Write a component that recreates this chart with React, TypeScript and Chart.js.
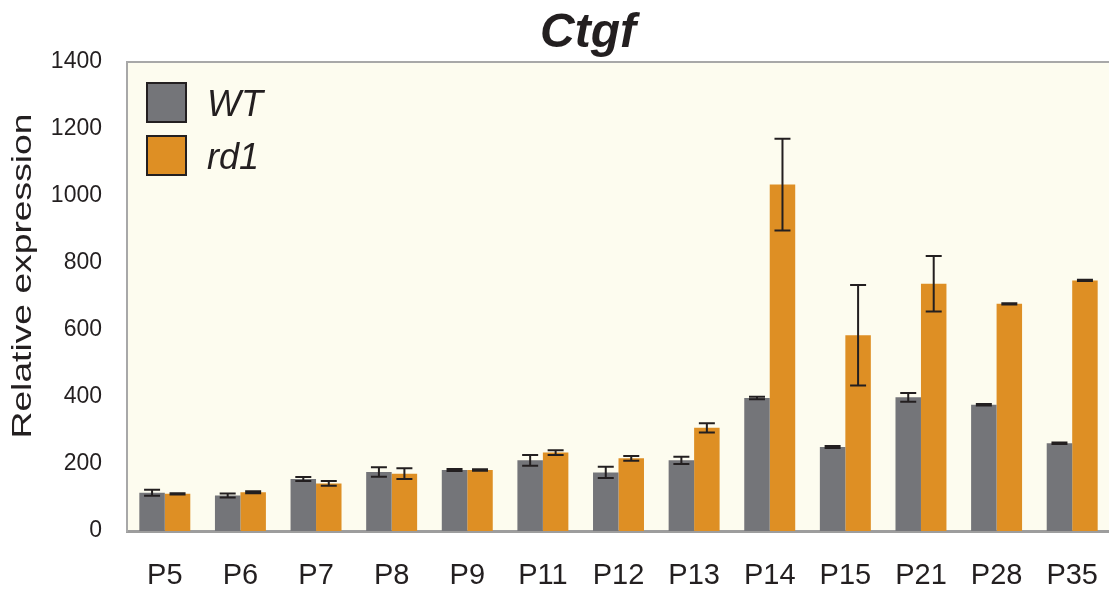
import React, { useEffect, useRef } from "react";
import { Chart, registerables } from "chart.js";

Chart.register(...registerables);

const categories = ["P5", "P6", "P7", "P8", "P9", "P11", "P12", "P13", "P14", "P15", "P21", "P28", "P35"];
const wtValues = [114, 106, 155, 176, 182, 211, 175, 211, 397, 251, 399, 377, 262];
const wtErrors = [9, 6, 6, 14, 3, 16, 17, 11, 4, 3, 13, 2, 2];
const rd1Values = [111, 116, 142, 171, 182, 234, 217, 308, 1034, 584, 738, 678, 748];
const rd1Errors = [2, 3, 7, 16, 2, 7, 7, 14, 137, 150, 83, 2, 2];
const seriesLabels = ["WT", "rd1"];
const seriesColors = ["#747579", "#de8f24"];
const yMin = 0;
const yMax = 1400;
const yStep = 200;
const chartTitle = "Ctgf";
const yAxisTitle = "Relative expression";

const FONT = '"Liberation Sans", Arial, sans-serif';
const INK = "#231f20";

export default function App() {
  const ref = useRef<HTMLCanvasElement | null>(null);

  useEffect(() => {
    if (!ref.current) return;
    const errors = [wtErrors, rd1Errors];

    const bgPlugin = {
      id: "bg",
      beforeDraw(chart: any) {
        const { ctx, chartArea: a } = chart;
        ctx.save();
        ctx.fillStyle = "#fdfcef";
        ctx.fillRect(a.left, a.top, a.right - a.left, a.bottom - a.top);
        ctx.strokeStyle = "#a8a8a8";
        ctx.lineWidth = 2;
        ctx.beginPath();
        ctx.moveTo(a.left, a.top);
        ctx.lineTo(a.right, a.top);
        ctx.stroke();
        ctx.restore();
      },
    };

    const errPlugin = {
      id: "errbars",
      afterDatasetsDraw(chart: any) {
        const { ctx } = chart;
        const ys = chart.scales.y;
        ctx.save();
        ctx.strokeStyle = INK;
        ctx.lineWidth = 2;
        chart.data.datasets.forEach((ds: any, i: number) => {
          const meta = chart.getDatasetMeta(i);
          meta.data.forEach((bar: any, j: number) => {
            const v = ds.data[j];
            const e = errors[i][j];
            const x = bar.x;
            const yt = ys.getPixelForValue(v + e);
            const yb = ys.getPixelForValue(v - e);
            const cw = 8;
            ctx.beginPath();
            ctx.moveTo(x, yt);
            ctx.lineTo(x, yb);
            ctx.moveTo(x - cw, yt);
            ctx.lineTo(x + cw, yt);
            ctx.moveTo(x - cw, yb);
            ctx.lineTo(x + cw, yb);
            ctx.stroke();
          });
        });
        ctx.restore();
      },
    };

    const textPlugin = {
      id: "texts",
      afterDraw(chart: any) {
        const { ctx } = chart;
        ctx.save();
        ctx.fillStyle = INK;
        ctx.font = `italic bold 48px ${FONT}`;
        ctx.textAlign = "center";
        ctx.textBaseline = "alphabetic";
        ctx.fillText(chartTitle, 588, 47);
        ctx.save();
        ctx.translate(31, 276);
        ctx.rotate(-Math.PI / 2);
        ctx.scale(1.33, 1);
        ctx.font = `28px ${FONT}`;
        ctx.textAlign = "center";
        ctx.textBaseline = "alphabetic";
        ctx.fillText(yAxisTitle, 0, 0);
        ctx.restore();
        const boxX = 147;
        const boxTops = [83, 136];
        const baselines = [116, 169];
        seriesLabels.forEach((lab, i) => {
          ctx.fillStyle = seriesColors[i];
          ctx.fillRect(boxX, boxTops[i], 39, 39);
          ctx.strokeStyle = INK;
          ctx.lineWidth = 2;
          ctx.strokeRect(boxX, boxTops[i], 39, 39);
          ctx.fillStyle = INK;
          ctx.font = `italic 36px ${FONT}`;
          ctx.textAlign = "left";
          ctx.fillText(lab, 207, baselines[i]);
        });
        ctx.restore();
      },
    };

    const chart = new Chart(ref.current, {
      type: "bar",
      data: {
        labels: categories,
        datasets: [
          {
            label: seriesLabels[0],
            data: wtValues,
            backgroundColor: seriesColors[0],
            borderWidth: 0,
            categoryPercentage: 0.674,
            barPercentage: 1.0,
          },
          {
            label: seriesLabels[1],
            data: rd1Values,
            backgroundColor: seriesColors[1],
            borderWidth: 0,
            categoryPercentage: 0.674,
            barPercentage: 1.0,
          },
        ],
      },
      options: {
        responsive: false,
        animation: false,
        layout: { padding: { top: 62, left: 0, right: 0, bottom: 0 } },
        plugins: {
          legend: { display: false },
          title: { display: false },
          tooltip: { enabled: false },
        },
        scales: {
          x: {
            grid: { display: false, drawTicks: false },
            border: { display: true, color: "#9d9d9d", width: 3 },
            ticks: {
              color: INK,
              font: { family: FONT, size: 29 },
              padding: 28,
              maxRotation: 0,
              autoSkip: false,
            },
            afterFit(s: any) {
              s.height = 58;
            },
          },
          y: {
            min: yMin,
            max: yMax,
            grid: { display: false, drawTicks: false },
            border: { display: true, color: "#a8a8a8", width: 2 },
            ticks: {
              stepSize: yStep,
              color: INK,
              font: { family: FONT, size: 23 },
              padding: 25,
              callback: (v: any) => String(v),
            },
            afterFit(s: any) {
              s.width = 127;
            },
          },
        },
      },
      plugins: [bgPlugin, errPlugin, textPlugin],
    } as any);

    return () => chart.destroy();
  }, []);

  return (
    <div style={{ position: "absolute", left: 0, top: 0, width: 1109, height: 589, overflow: "hidden" }}>
      <canvas ref={ref} width={1126} height={589} />
    </div>
  );
}
